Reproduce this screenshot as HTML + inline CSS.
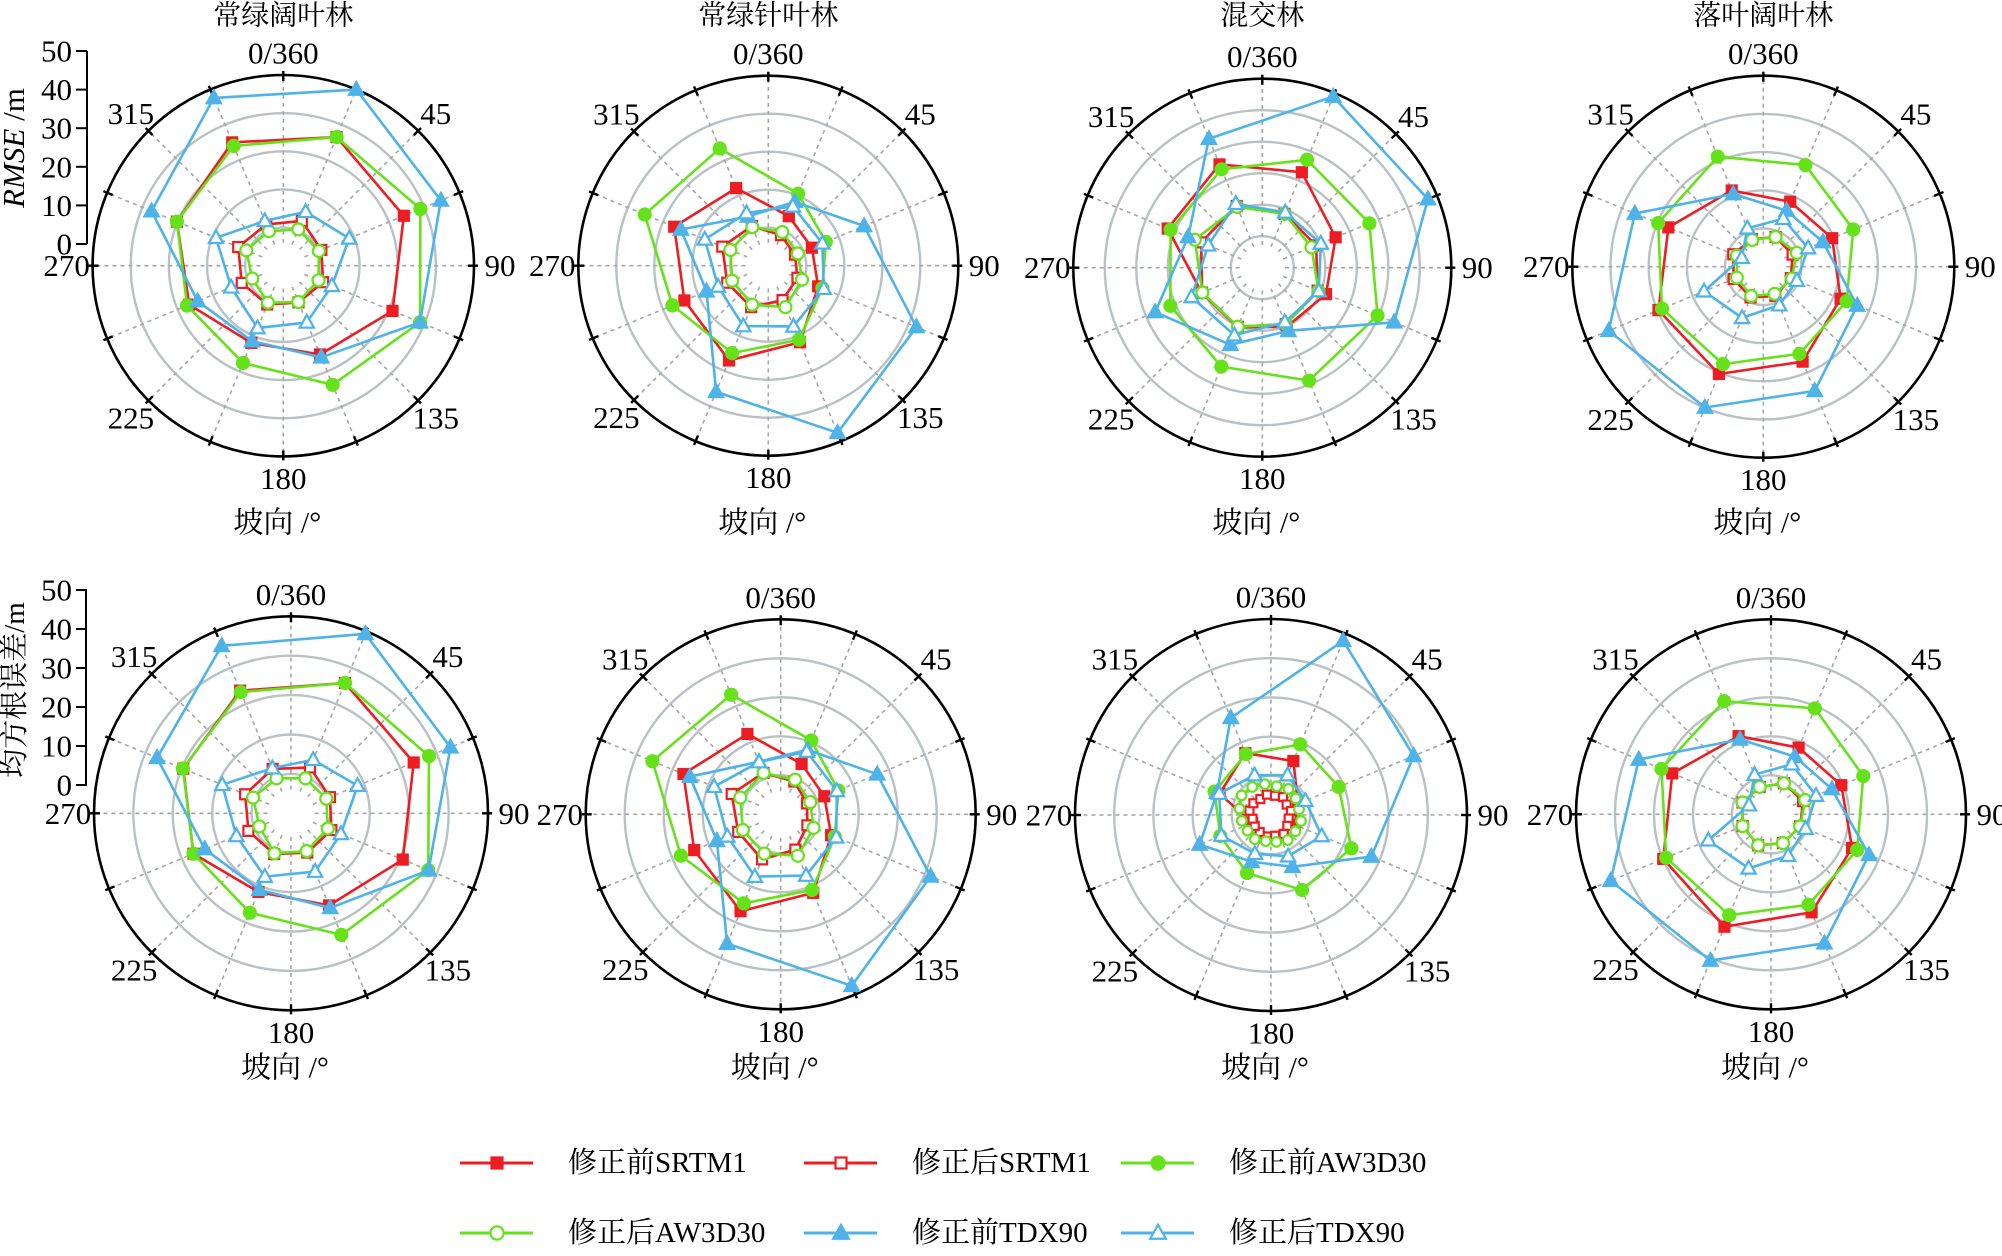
<!DOCTYPE html>
<html><head><meta charset="utf-8"><title>RMSE by slope aspect</title>
<style>
html,body{margin:0;padding:0;background:#fff;}
svg{display:block;font-family:"Liberation Serif","Noto Serif CJK SC",serif;}
</style></head>
<body>
<svg id="fig" width="2002" height="1256" viewBox="0 0 2002 1256" xmlns="http://www.w3.org/2000/svg">
<rect width="2002" height="1256" fill="#fff"/>
<g id="charts"></g>
<g fill="#000">
  <line x1="87" y1="51" x2="87" y2="244" stroke="#000" stroke-width="2"/>
  <g id="ytop"></g>
  <text transform="translate(24,148) rotate(-90)" text-anchor="middle" font-size="31"><tspan font-style="italic">RMSE</tspan> /m</text>
</g>
<g fill="#000">
  <line x1="86" y1="590" x2="86" y2="785" stroke="#000" stroke-width="2"/>
  <g id="ybot"></g>
  <text transform="translate(24,690) rotate(-90)" text-anchor="middle" font-size="29">均方根误差/m</text>
</g>
<g id="legend"></g>
</svg>
<script>
const NS = "http://www.w3.org/2000/svg";
const aspectLabels = ["0/360","45","90","135","180","225","270","315"];
const titles = ["常绿阔叶林","常绿针叶林","混交林","落叶阔叶林"];
const yTicks = [0,10,20,30,40,50];
const seriesNames = ["修正前SRTM1","修正后SRTM1","修正前AW3D30","修正后AW3D30","修正前TDX90","修正后TDX90"];

const c1_srtmB = [36.5,34.2,31,25.2,21.9,26.7,30.2,35];
const c1_srtmA = [12.7,10.8,11.3,10.4,11,11.8,12.8,11.7];
const c1_awB = [36.5,38.9,38.8,33.8,27.6,27.3,30.2,34];
const c1_awA = [10.3,10.1,10,10.3,10.5,8.8,10.5,9.8];
const c1_tdxB = [50,44.7,38.8,26,21.4,24.3,37.4,47.6];
const c1_tdxA = [15.3,18.7,13.8,16.1,17.7,14.8,19.1,12.7];
const c2_srtmB = [14.1,12.4,14.2,21.8,27,23.9,26.8,22.1];
const c2_srtmA = [8.7,7.6,8.3,9.8,11.8,11.7,13.1,11.3];
const c2_awB = [20.5,16.4,15.4,21.1,24.9,27.3,35.2,33.4];
const c2_awA = [9.6,8.4,9.6,11.8,11.1,10.3,10.8,11];
const c2_tdxB = [18.2,27.3,42.2,47.6,35.9,17.6,24.9,14];
const c2_tdxA = [16.9,15.4,15.8,17.3,17.2,14.3,18.1,15];
const c3_srtmB = [32.8,25.2,21.9,20.3,20.5,20.8,32.5,35.5];
const c3_srtmA = [18.5,18.5,19,19.4,20.3,20.7,21,21.2];
const c3_awB = [37.1,36.8,39.6,38.8,34,31.6,31.5,33.8];
const c3_awA = [18.5,16.9,19.3,19.4,20.3,20.6,23.2,20.9];
const c3_tdxB = [58.8,56.9,45.3,21.7,26.5,36.8,25.5,44.3];
const c3_tdxA = [19,20.1,19.4,18.7,23.2,24.3,18.6,22];
const c4_srtmB = [18.4,19.5,21.9,26.9,30.4,29.7,26.9,21.6];
const c4_srtmA = [8.4,8.3,7.8,8.3,8.7,8.4,8.5,7.8];
const c4_awB = [28.8,25.5,23.6,24.7,27.6,28.7,29.8,31.2];
const c4_awA = [8.4,9.5,8.1,7.7,8.3,7.5,7.5,7.6];
const c4_tdxB = [15.9,16.9,26.6,35.2,39.9,43.8,36.4,20.6];
const c4_tdxA = [13.6,12.7,9.5,10.9,14.5,16.8,6.1,10.9];
const c5_srtmB = [35.8,33.7,30.7,25.3,21.6,26.8,29.6,33.7];
const c5_srtmA = [12.6,10.7,11.1,10.8,11.2,11.7,12.6,12.2];
const c5_awB = [35.8,37.9,37.7,33.4,27.3,26.8,29.7,33.3];
const c5_awA = [9.6,9.7,10.1,10.4,11,8.7,10.4,9.6];
const c5_tdxB = [49.3,43.8,37.8,26,21,23.7,36.8,46];
const c5_tdxA = [14.7,18.3,13.7,16,17.4,15,18.9,12.4];
const c6_srtmB = [14,12.1,14,21.8,26.9,24,27,22.3];
const c6_srtmA = [9.1,7.3,7.4,9.8,12.5,11.8,13.6,11.5];
const c6_awB = [20.5,16,15,21,24.7,27.7,35.6,33.2];
const c6_awA = [9.6,8.2,9.1,11.5,10.9,10.5,11.2,11.5];
const c6_tdxB = [17.9,26.8,41.6,47.6,35.9,17.7,25.2,14.6];
const c6_tdxA = [17.4,15.6,15.4,17,17.3,14.8,18.5,14.5];
const c7_srtmB = [14.9,7.5,6.5,6,6.2,5.2,14.2,17.1];
const c7_srtmA = [5,5.5,4.8,5.2,4.6,5,5.8,5.4,5.6,5.2,5,4.8,5.6,5.4,4.9,5.3];
const c7_awB = [19.5,18.7,22.2,20.7,16,14,15.6,16.8];
const c7_awA = [7.5,8,7.6,7.3,7.8,7.5,7.7,7,6.8,7.4,7.2,7.6,8.2,9,8.6,8];
const c7_tdxB = [48.1,39.4,27.7,14.3,12.9,19.7,14.9,26.8];
const c7_tdxA = [11,9.5,14,11.4,10.7,13.7,14.3,11];
const c8_srtmB = [18.5,19.5,22.5,27.2,31.2,29.9,27.4,21.7];
const c8_srtmA = [8.6,8.9,8.1,8,8.6,7.9,7.9,7.6];
const c8_awB = [29.4,25.6,23.9,25.1,28,29.1,30.4,31.4];
const c8_awA = [8.6,9.5,8.1,8,8.6,7.9,7.9,7.6];
const c8_tdxB = [16,16.9,27.2,35.8,40.6,44.5,36.7,20.8];
const c8_tdxA = [13.9,12.5,9.6,11.5,15,17.4,6.1,11];

const RED="#ee1d23", GREEN="#66e21a", BLUE="#4db3e8";
const styles = [
  {c:RED, m:"sq", f:true},{c:RED, m:"sq", f:false},
  {c:GREEN,m:"ci",f:true},{c:GREEN,m:"ci",f:false},
  {c:BLUE,m:"tr",f:true},{c:BLUE,m:"tr",f:false}
];
const layout = [
  {cx:283.3,cy:265.7,R:190.7,max:50,title:0,data:[c1_srtmB,c1_srtmA,c1_awB,c1_awA,c1_tdxB,c1_tdxA]},
  {cx:768.3,cy:265.7,R:190,max:50,title:1,data:[c2_srtmB,c2_srtmA,c2_awB,c2_awA,c2_tdxB,c2_tdxA]},
  {cx:1262.3,cy:267.7,R:189,max:60,title:2,data:[c3_srtmB,c3_srtmA,c3_awB,c3_awA,c3_tdxB,c3_tdxA]},
  {cx:1763.3,cy:266.7,R:191,max:50,title:3,data:[c4_srtmB,c4_srtmA,c4_awB,c4_awA,c4_tdxB,c4_tdxA]},
  {cx:291,cy:813.3,R:197,max:50,title:-1,data:[c5_srtmB,c5_srtmA,c5_awB,c5_awA,c5_tdxB,c5_tdxA]},
  {cx:780.7,cy:814.3,R:195,max:50,title:-1,data:[c6_srtmB,c6_srtmA,c6_awB,c6_awA,c6_tdxB,c6_tdxA]},
  {cx:1271,cy:815,R:196,max:50,title:-1,data:[c7_srtmB,c7_srtmA,c7_awB,c7_awA,c7_tdxB,c7_tdxA]},
  {cx:1771,cy:814.3,R:195,max:50,title:-1,data:[c8_srtmB,c8_srtmA,c8_awB,c8_awA,c8_tdxB,c8_tdxA]}
];

function mk(tag, attrs, parent){
  const e=document.createElementNS(NS,tag);
  for(const k in attrs) e.setAttribute(k,attrs[k]);
  if(parent) parent.appendChild(e);
  return e;
}
function marker(g, st, x, y, s){
  let e;
  const fill = st.f ? st.c : "#fff";
  if(st.m==="sq"){
    e=mk("rect",{x:x-s*5,y:y-s*5,width:s*10,height:s*10,fill:fill,stroke:st.c,"stroke-width":2.2},g);
  } else if(st.m==="ci"){
    e=mk("circle",{cx:x,cy:y,r:s*6,fill:fill,stroke:st.c,"stroke-width":2.2},g);
  } else {
    const h=s*7.5;
    e=mk("polygon",{points:`${x},${y-h} ${x+h*0.95},${y+h*0.7} ${x-h*0.95},${y+h*0.7}`,fill:fill,stroke:st.c,"stroke-width":2.2},g);
  }
  return e;
}

const root=document.getElementById("charts");
layout.forEach((L,ci)=>{
  const g=mk("g",{},root);
  
  
  const rScale = v => v/L.max*L.R;
  const pt = (angDeg, v) => {
    const a=angDeg*Math.PI/180, r=rScale(v);
    return [L.cx + r*Math.sin(a), L.cy - r*Math.cos(a)];
  };
  for(let v=10; v<L.max; v+=10){
    const c=mk("circle",{cx:L.cx,cy:L.cy,r:rScale(v),fill:"none",stroke:"#b9c1c5","stroke-width":2.4},g);
    
    
  }
  for(let k=0;k<16;k++){
    const p0=pt(k*22.5, L.max*0.12);
    const p=pt(k*22.5, L.max);
    const s=mk("line",{x1:p0[0],y1:p0[1],x2:p[0],y2:p[1],stroke:"#a6a6a6","stroke-width":1.6,"stroke-dasharray":"4 4"},g);
    
    
  }
  const oc=mk("circle",{cx:L.cx,cy:L.cy,r:L.R,fill:"none",stroke:"#000","stroke-width":2.6},g);
  
  
  for(let k=0;k<16;k++){
    const a=k*22.5*Math.PI/180;
    const r1=L.R-6, r2=L.R+4;
    mk("line",{x1:L.cx+r1*Math.sin(a),y1:L.cy-r1*Math.cos(a),x2:L.cx+r2*Math.sin(a),y2:L.cy-r2*Math.cos(a),stroke:"#000","stroke-width":2.4},g);
  }
  aspectLabels.forEach((lab,k)=>{
    const a=k*45*Math.PI/180;
    const rr=L.R+22+4*Math.abs(Math.sin(a));
    const t=mk("text",{x:L.cx+rr*Math.sin(a),y:L.cy-rr*Math.cos(a),"text-anchor":"middle","dominant-baseline":"central","font-size":31},g);
    t.textContent=lab;
    
    
  });
  L.data.forEach((arr,si)=>{
    const st=styles[si];
    const n=arr.length;
    const pts=arr.map((v,k)=>pt(360/n*(k+0.5), v));
    const sg=mk("g",{},g);
    
    
    const pl=mk("polygon",{points:pts.map(p=>p.join(",")).join(" "),fill:"none",stroke:st.c,"stroke-width":2.6,"stroke-linejoin":"round"},sg);
    
    
    const s = n>8 ? 0.8 : 1;
    pts.forEach(p=>{
      const m=marker(sg,st,p[0],p[1],s);
      
      
    });
  });
  if(L.title>=0){
    const t=mk("text",{x:L.cx,y:16,"text-anchor":"middle","dominant-baseline":"central","font-size":28},g);
    t.textContent=titles[L.title];
    
    
  }
  const xl=mk("text",{x:L.cx-6,y:(ci<4?523:1068),"text-anchor":"middle","dominant-baseline":"central","font-size":30},g);
  xl.textContent="坡向 /°";
  
  
});

function yaxis(id, y0, y1){
  const g=document.getElementById(id);
  yTicks.forEach(v=>{
    const y=y0+(y1-y0)*v/50;
    mk("line",{x1:76,y1:y,x2:87,y2:y,stroke:"#000","stroke-width":2},g);
    const t=mk("text",{x:72,y:y,"text-anchor":"end","dominant-baseline":"central","font-size":31},g);
    t.textContent=v;
    
    
  });
}
yaxis("ytop",244,51);
yaxis("ybot",785,590);

const leg=document.getElementById("legend");
const legPos=[[460,1163],[804,1163],[1121,1163],[460,1233],[804,1233],[1121,1233]];
seriesNames.forEach((nm,i)=>{
  const [x,y]=legPos[i];
  const st=styles[i];
  const g=mk("g",{},leg);
  
  
  mk("line",{x1:x,y1:y,x2:x+73,y2:y,stroke:st.c,"stroke-width":3},g);
  marker(g,st,x+37,y,1.1);
  const t=mk("text",{x:x+108,y:y,"dominant-baseline":"central","font-size":29},g);
  t.textContent=nm;
});
</script>
</body></html>
